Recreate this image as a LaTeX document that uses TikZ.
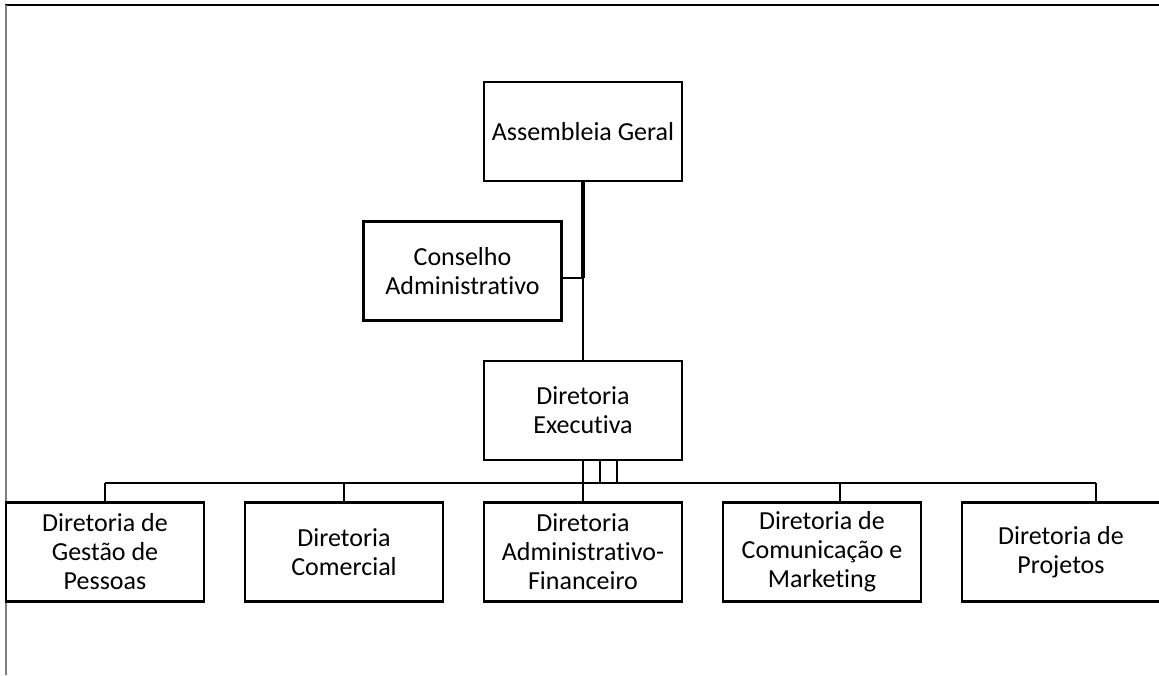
\documentclass[tikz,border=0pt]{standalone}
\usepackage{fontspec}
\setmainfont{Carlito}[RawFeature=-liga]
\begin{document}
\begin{tikzpicture}[x=1pt,y=-1pt,
  box/.style={draw=black,line width=2.5pt,fill=white,minimum width=198pt,minimum height=99pt,
    align=center,inner sep=0pt,font=\fontsize{26}{29}\selectfont},
  conn/.style={draw=black,line width=2.5pt}]
\useasboundingbox (0,0) rectangle (1159,675);
% page frame
\draw[line width=2pt,black] (5,5) -- (1159,5);
\draw[line width=1.5pt,gray] (6,5) -- (6,675);
% nodes
\node[box] (ag) at (583,131.5) {Assembleia Geral};
\node[box] (ca) at (462.5,271) {Conselho\\Administrativo};
\node[box] (de) at (583,410.5) {Diretoria\\Executiva};
\node[box] (b1) at (105,552) {Diretoria de\\Gestão de\\Pessoas};
\node[box] (b2) at (344,552) {Diretoria\\Comercial};
\node[box] (b3) at (583,552) {Diretoria\\Administrativo-\\Financeiro};
\node[box] (b4) at (822,552) {Diretoria de\\Comunicação e\\Marketing};
\node[box] (b5) at (1061,552) {Diretoria de\\Projetos};
% junctions
\coordinate (j1) at (583,278);
\coordinate (busL) at (105,483);
\coordinate (busR) at (1096,483);
\coordinate (d4) at (840,483);
\coordinate (d5) at (1096,483);
% connectors
\draw[conn,line width=3.5pt] (ag.south) -- (j1);
\draw[conn] (j1) -- (j1 -| ca.east);
\draw[conn] (j1) -- (de.north);
\draw[conn] (busL) -- (busR);
\draw[conn] (de.south) -- (de.south |- busL);
\draw[conn] ([xshift=17pt]de.south) -- ([xshift=17pt]de.south |- busL);
\draw[conn] ([xshift=34pt]de.south) -- ([xshift=34pt]de.south |- busL);
\draw[conn] (b1.north) -- (b1.north |- busL);
\draw[conn] (b2.north) -- (b2.north |- busL);
\draw[conn] (b3.north) -- (b3.north |- busL);
\draw[conn] (d4) -- (d4 |- b4.north);
\draw[conn] (d5) -- (d5 |- b5.north);
\end{tikzpicture}
\end{document}
